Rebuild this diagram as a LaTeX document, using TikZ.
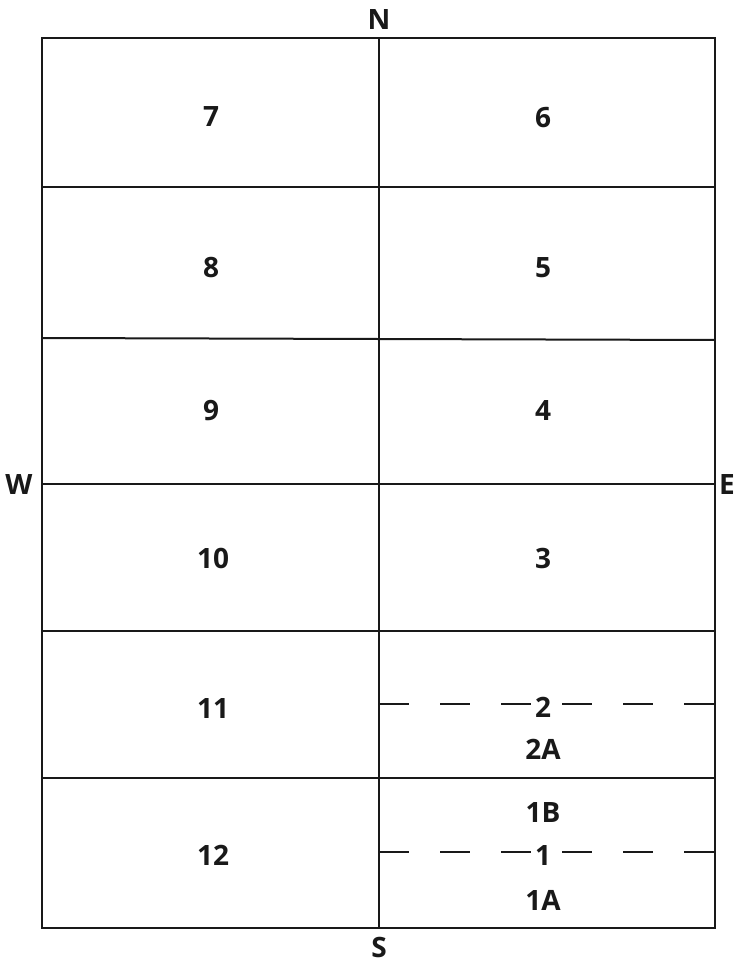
\documentclass[tikz,border=0pt]{standalone}
\usepackage{fontspec}
\setmainfont{Open Sans}
\begin{document}
\begin{tikzpicture}[x=1pt,y=-1pt,
  grid/.style={line width=2pt,draw=black!90},
  dashline/.style={line width=2pt,draw=black!90,dash pattern=on 30pt off 31pt},
  lbl/.style={font=\fontsize{28}{30}\selectfont\bfseries,inner sep=0pt,text=black!90}]
\useasboundingbox (0,0) rectangle (738,963);
% outer frame and divisions
\draw[grid] (42,38) rectangle (715,928);
\draw[grid] (379,38) -- (379,928);
\draw[grid] (42,187) -- (715,187);
\draw[grid] (42,338) -- (715,340);
\draw[grid] (42,484) -- (715,484);
\draw[grid] (42,631) -- (715,631);
\draw[grid] (42,778) -- (715,778);
% dashed sub-divisions
\draw[dashline] (379,704) -- (715,704);
\draw[dashline] (379,852) -- (715,852);
% compass labels
\node[lbl] (n) at (379,20) {N};
\node[lbl] (s) at (379,947) {S};
\node[lbl] (w) at (19,485) {W};
\node[lbl] (e) at (727,485) {E};
% left column
\node[lbl] (c7) at (211,117) {7};
\node[lbl] (c8) at (211,268) {8};
\node[lbl] (c9) at (211,411) {9};
\node[lbl] (c10) at (213,558) {10};
\node[lbl] (c11) at (213,708) {11};
\node[lbl] (c12) at (213,855) {12};
% right column
\node[lbl] (c6) at (543,118) {6};
\node[lbl] (c5) at (543,268) {5};
\node[lbl] (c4) at (543,411) {4};
\node[lbl] (c3) at (543,558) {3};
\node[lbl] (c2) at (543,707) {2};
\node[lbl] (c2a) at (543,749) {2A};
\node[lbl] (c1b) at (543,812) {1B};
\node[lbl] (c1) at (543,855) {1};
\node[lbl] (c1a) at (543,900) {1A};
\end{tikzpicture}
\end{document}
